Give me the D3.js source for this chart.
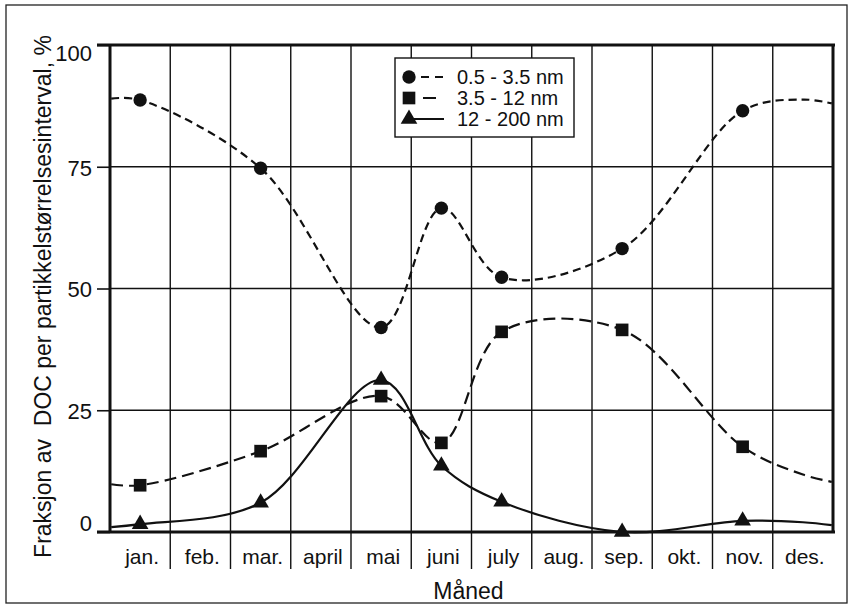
<!DOCTYPE html>
<html>
<head>
<meta charset="utf-8">
<script src="https://cdn.jsdelivr.net/npm/d3@7"></script>
<style>
  body { margin: 0; background: #fff; }
  text { font-family: "Liberation Sans", Arial, sans-serif; fill: #111; }
</style>
</head>
<body>
<div id="chart-area"></div>
<script>
const SVG_WIDTH = 850;
const SVG_HEIGHT = 609;

// data
const months = ["jan.", "feb.", "mar.", "april", "mai", "juni", "july", "aug.", "sep.", "okt.", "nov.", "des."];
const markMonths = [0, 2, 4, 5, 6, 8, 10];           // jan, mar, mai, juni, july, sep, nov
const fineValues = [88.7, 74.7, 42.0, 66.5, 52.3, 58.2, 86.5];   // 0.5 - 3.5 nm
const midValues = [9.6, 16.6, 27.9, 18.3, 41.1, 41.5, 17.5];     // 3.5 - 12 nm
const coarseValues = [1.6, 6.0, 31.2, 13.6, 6.2, 0.0, 2.3];      // 12 - 200 nm
// where the smoothed curves meet the left edge, des. and the right edge
const edgeMonths = [-0.48, 11, 11.48];
const fineEdges = [89.0, 88.8, 88.0];
const midEdges = [9.8, 11.8, 10.3];
const coarseEdges = [1.0, 2.0, 1.4];
const yTicks = [0, 25, 50, 75, 100];
const seriesNames = ["0.5 - 3.5 nm", "3.5 - 12 nm", "12 - 200 nm"];

const margin = { left: 110, right: 17, top: 45, bottom: 77 };
const width = SVG_WIDTH - margin.left - margin.right;
const height = SVG_HEIGHT - margin.top - margin.bottom;

const svg = d3.select("#chart-area").append("svg")
    .attr("width", SVG_WIDTH).attr("height", SVG_HEIGHT);

// outer frame
svg.append("rect").attr("x", 6).attr("y", 5).attr("width", 841).attr("height", 598)
    .attr("fill", "none").attr("stroke", "#222").attr("stroke-width", 1.3);

const group = svg.append("g").attr("transform", `translate(${margin.left},${margin.top})`);

// month index -> x (centre of month i is i + 0.5)
const x = d3.scaleLinear().domain([-0.5, 11.5]).range([0, width]);
const y = d3.scaleLinear().domain([0, 100]).range([height, 0]);

// horizontal grid
group.selectAll(".hgrid").data([25, 50, 75]).enter().append("line")
    .attr("class", "hgrid")
    .attr("x1", 0).attr("x2", width)
    .attr("y1", d => y(d)).attr("y2", d => y(d))
    .attr("stroke", "#111").attr("stroke-width", 1.4);

// vertical grid, running down between the month labels
group.selectAll(".vgrid").data(d3.range(1, 12)).enter().append("line")
    .attr("class", "vgrid")
    .attr("x1", d => x(d - 0.5)).attr("x2", d => x(d - 0.5))
    .attr("y1", 0).attr("y2", height + 37)
    .attr("stroke", "#111").attr("stroke-width", 1.4);

// y axis with outward ticks
const yAxisCall = d3.axisLeft(y).tickValues(yTicks).tickSize(13).tickPadding(5);
const yAxisGroup = group.append("g").attr("class", "y-axis").call(yAxisCall);
yAxisGroup.select(".domain").remove();
yAxisGroup.selectAll(".tick line").attr("stroke", "#111").attr("stroke-width", 1.6);
yAxisGroup.selectAll(".tick text")
    .attr("font-size", "22px")
    .attr("font-family", "Liberation Sans, Arial, sans-serif")
    .attr("fill", "#111")
    .attr("dy", d => d === 100 ? "0.72em" : d === 0 ? "-0.05em" : "0.38em");

// heavy frame of the plot
group.append("line").attr("x1", -13).attr("x2", width + 2).attr("y1", 0).attr("y2", 0)
    .attr("stroke", "#111").attr("stroke-width", 3);
group.append("line").attr("x1", -13).attr("x2", width + 2).attr("y1", height).attr("y2", height)
    .attr("stroke", "#111").attr("stroke-width", 3);
group.append("line").attr("x1", 0).attr("x2", 0).attr("y1", 0).attr("y2", height)
    .attr("stroke", "#111").attr("stroke-width", 3);
group.append("line").attr("x1", width).attr("x2", width).attr("y1", 0).attr("y2", height + 1)
    .attr("stroke", "#111").attr("stroke-width", 3);

// month labels
group.selectAll(".month").data(months).enter().append("text")
    .attr("class", "month")
    .attr("x", (d, i) => x(i) + 2)
    .attr("y", height + 32)
    .attr("font-size", "21px")
    .attr("text-anchor", "middle")
    .text(d => d);

// axis titles
group.append("text")
    .attr("x", width / 2 - 3)
    .attr("y", height + 67)
    .attr("font-size", "23px")
    .attr("text-anchor", "middle")
    .text("Måned");

svg.append("text")
    .attr("transform", `translate(51,${margin.top + height / 2 + 8}) rotate(-90)`)
    .attr("font-size", "23px")
    .attr("text-anchor", "middle")
    .text("Fraksjon av\u00a0 DOC per partikkelstørrelsesinterval, %");

// smoothed curves
const line = d3.line()
    .x(d => x(d[0]))
    .y(d => y(d[1]))
    .curve(d3.curveCatmullRom.alpha(0.5));

function curvePoints(values, edges) {
    const pts = markMonths.map((m, i) => [m, values[i]]);
    return [[edgeMonths[0], edges[0]]].concat(pts, [[edgeMonths[1], edges[1]], [edgeMonths[2], edges[2]]]);
}

const series = [
    { values: fineValues, edges: fineEdges, dash: "8,5", marker: "circle" },
    { values: midValues, edges: midEdges, dash: "12,6", marker: "square" },
    { values: coarseValues, edges: coarseEdges, dash: null, marker: "triangle" }
];

series.forEach(s => {
    group.append("path")
        .attr("d", line(curvePoints(s.values, s.edges)))
        .attr("fill", "none")
        .attr("stroke", "#111")
        .attr("stroke-width", 2.2)
        .attr("stroke-dasharray", s.dash);
});

const symbols = {
    circle: d3.symbol().type(d3.symbolCircle).size(140),
    square: d3.symbol().type(d3.symbolSquare).size(160),
    triangle: d3.symbol().type(d3.symbolTriangle).size(120)
};

series.forEach(s => {
    group.selectAll(".mark-" + s.marker).data(s.values).enter().append("path")
        .attr("class", "mark-" + s.marker)
        .attr("transform", (d, i) => `translate(${x(markMonths[i])},${y(d)})`)
        .attr("d", symbols[s.marker]())
        .attr("fill", "#111");
});

// legend
const legend = svg.append("g").attr("transform", "translate(395,58)");
legend.append("rect").attr("width", 179).attr("height", 79)
    .attr("fill", "#fff").attr("stroke", "#111").attr("stroke-width", 1.4);
const rows = legend.selectAll(".row").data(series).enter().append("g")
    .attr("class", "row")
    .attr("transform", (d, i) => `translate(0,${19 + i * 21})`);
rows.append("line")
    .attr("x1", 14).attr("x2", 49)
    .attr("stroke", "#111").attr("stroke-width", 2.2)
    .attr("stroke-dasharray", d => d.dash ? (d.marker === "circle" ? "0,12,8,6,8,20" : "0,14,13,20") : null);
rows.append("path")
    .attr("transform", "translate(14,0)")
    .attr("d", d => symbols[d.marker]())
    .attr("fill", "#111");
rows.append("text")
    .attr("x", 62).attr("dy", "0.36em")
    .attr("font-size", "20px")
    .text((d, i) => seriesNames[i]);
</script>
</body>
</html>
